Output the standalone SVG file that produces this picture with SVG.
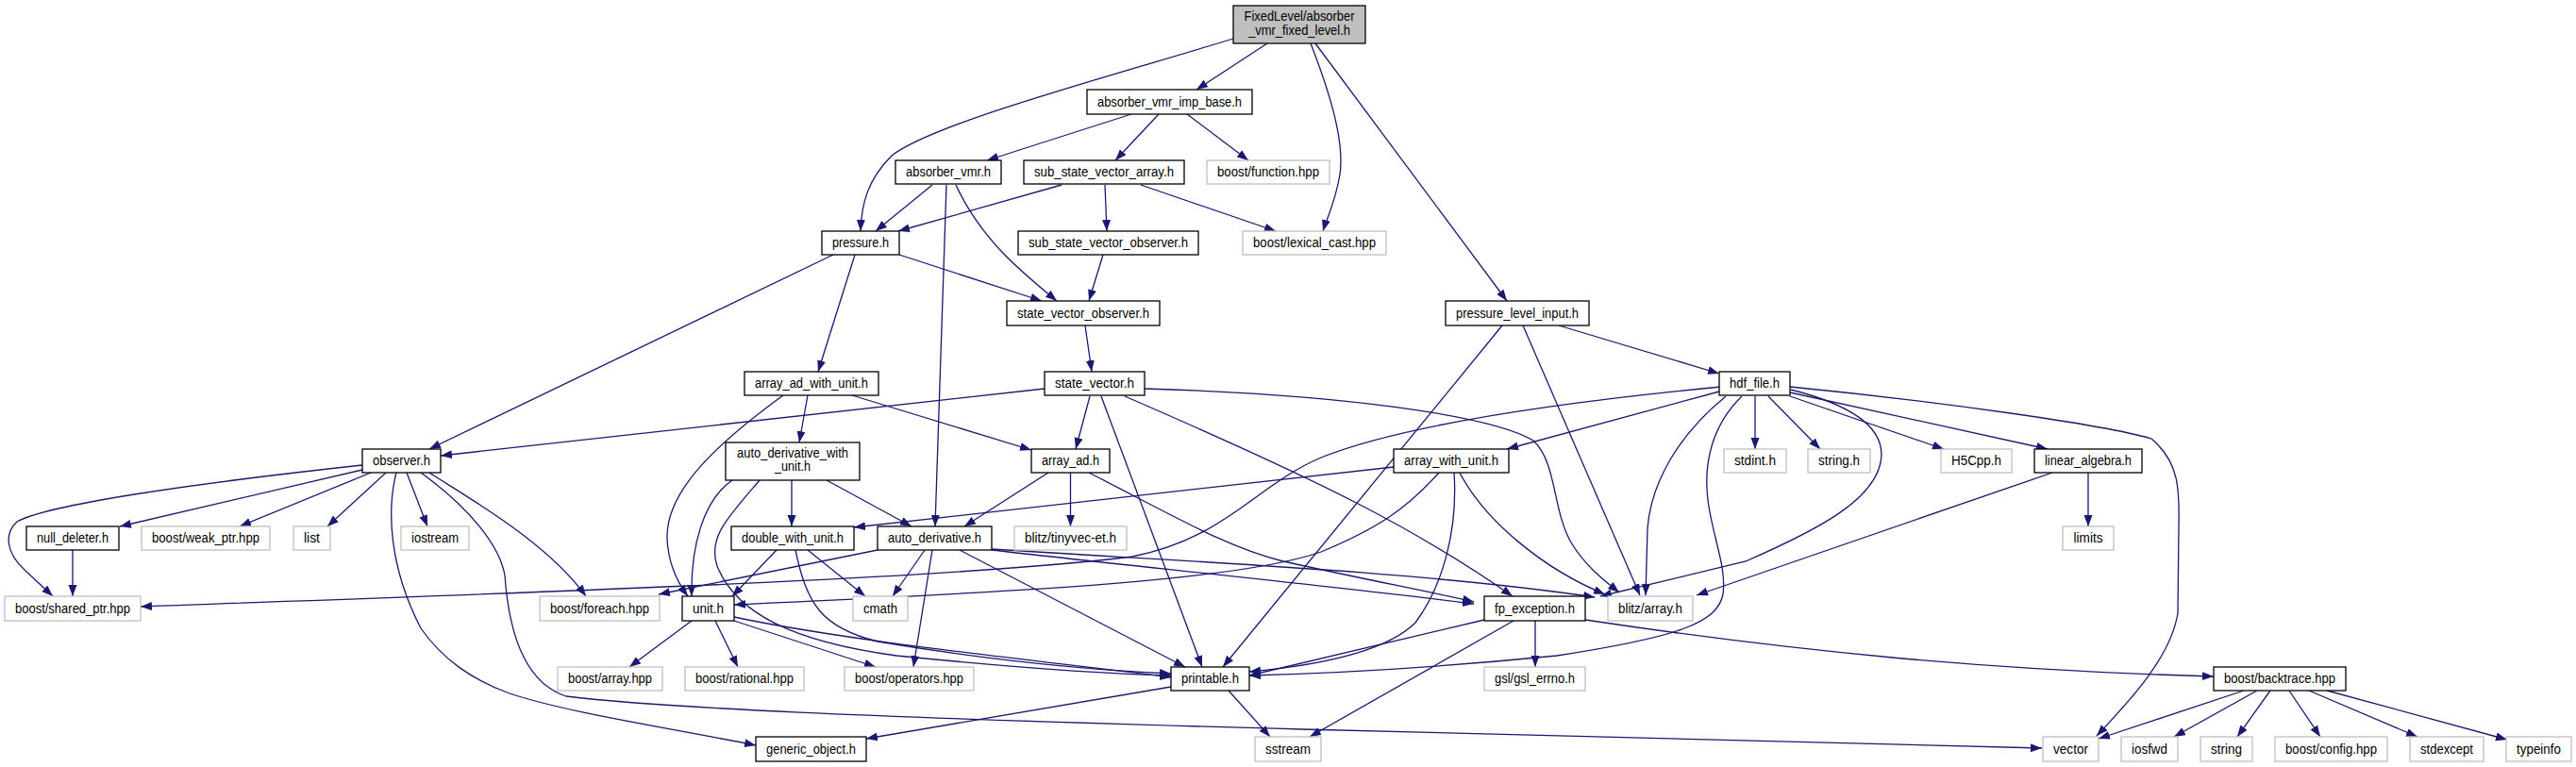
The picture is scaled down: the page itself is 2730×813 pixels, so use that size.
<svg xmlns="http://www.w3.org/2000/svg" width="2730" height="813" viewBox="0 0 2730 813">
<style>
.n rect{fill:#fff;stroke:#000;stroke-width:1.3}
.x rect{fill:#fff;stroke:#bfbfbf;stroke-width:1.3}
.r rect{fill:#bfbfbf;stroke:#000;stroke-width:1.3}
text{font-family:"Liberation Sans",Arial,sans-serif;font-size:14px;text-anchor:middle;fill:#000}
#edges path{fill:none;stroke:#191970;stroke-width:1.3;marker-end:url(#a)}
</style>
<defs>
<marker id="a" markerUnits="userSpaceOnUse" markerWidth="13" markerHeight="10" refX="12" refY="4.5" orient="auto"><path d="M0,0 L12,4.5 L0,9 z" fill="#191970"/></marker>
</defs>
<rect width="2730" height="813" fill="#fff"/>
<g id="edges">
<path d="M1307,41 C1180,80 990,130 945,165 C920,190 913,215 912,245"/>
<path d="M1343,46 L1268,95"/>
<path d="M1389,46 C1410,100 1425,150 1420,185 C1415,215 1405,235 1402,245"/>
<path d="M1394,46 L1597,319"/>
<path d="M1199,121 L1046,170"/>
<path d="M1228,121 L1182,170"/>
<path d="M1258,121 L1323,170"/>
<path d="M988,196 L928,245"/>
<path d="M1003,196 L991,558"/>
<path d="M1013,196 C1040,255 1085,290 1120,319"/>
<path d="M1125,196 L952,245"/>
<path d="M1171,196 L1173,245"/>
<path d="M1209,196 L1352,245"/>
<path d="M1169,270 L1154,319"/>
<path d="M953,270 L1104,319"/>
<path d="M906,270 L867,394"/>
<path d="M883,270 L455,476"/>
<path d="M1150,345 L1157,394"/>
<path d="M1592,345 L1296,707"/>
<path d="M1614,345 L1738,631"/>
<path d="M1652,345 L1822,396"/>
<path d="M856,419 L847,469"/>
<path d="M903,419 L1093,477"/>
<path d="M830,419 C760,470 706,520 707,570 C708,600 720,620 729,632"/>
<path d="M1107,412 L467,483"/>
<path d="M1155,420 L1140,476"/>
<path d="M1167,420 L1274,707"/>
<path d="M1192,420 C1400,510 1500,560 1603,632"/>
<path d="M1213,412 C1420,418 1580,440 1625,467 C1650,490 1645,540 1665,575 C1680,600 1700,615 1716,628"/>
<path d="M1824,410 C1700,422 1500,445 1400,485 C1330,515 1300,570 1200,590 C1000,615 500,630 149,643"/>
<path d="M1822,415 L1597,476"/>
<path d="M1846,420 C1815,450 1805,490 1810,530 C1815,570 1830,600 1826,630 C1820,660 1780,675 1650,695 C1500,710 1400,714 1324,716"/>
<path d="M1829,420 C1780,460 1750,510 1746,560 L1744,631"/>
<path d="M1898,413 C1965,430 2000,455 1993,490 C1985,530 1930,560 1850,595 L1696,632"/>
<path d="M1860,420 L1860,476"/>
<path d="M1874,420 L1929,476"/>
<path d="M1897,420 L2060,476"/>
<path d="M1897,416 L2170,476"/>
<path d="M1897,410 C2050,425 2230,450 2280,465 C2310,490 2310,520 2309,560 L2308,650 C2300,700 2250,750 2222,780"/>
<path d="M384,498 L127,558"/>
<path d="M393,501 L254,558"/>
<path d="M409,501 L347,558"/>
<path d="M431,501 L453,558"/>
<path d="M384,493 C200,513 50,535 18,553 C5,565 5,585 27,605 L56,632"/>
<path d="M455,501 C500,530 580,575 621,632"/>
<path d="M420,501 C410,540 412,600 446,666 C470,700 500,720 540,735 C600,755 700,770 801,790"/>
<path d="M446,501 C500,540 530,580 535,610 C540,680 560,725 600,738 C700,750 900,760 1380,773 L2164,793"/>
<path d="M839,509 L839,558"/>
<path d="M876,509 L966,558"/>
<path d="M776,509 C745,530 732,580 733,632"/>
<path d="M805,509 C770,550 750,570 760,600 C780,650 840,680 950,695 C1100,710 1200,715 1241,716"/>
<path d="M1111,501 L1022,558"/>
<path d="M1134.5,501 L1134.5,558"/>
<path d="M1154,501 C1250,550 1300,580 1360,595 C1450,615 1520,628 1562,638"/>
<path d="M1477,495 L905,559"/>
<path d="M1525,501 C1490,540 1460,560 1400,585 C1300,620 1000,630 778,641"/>
<path d="M1541,501 C1545,560 1530,620 1500,660 C1470,690 1400,705 1324,712"/>
<path d="M1547,501 C1575,555 1640,605 1701,630"/>
<path d="M2213,501 L2213,558"/>
<path d="M2175,501 L1798,631"/>
<path d="M77,583 L77,632"/>
<path d="M823,583 L776,632"/>
<path d="M856,583 L917,632"/>
<path d="M843,583 C855,640 870,665 930,680 C1050,700 1150,710 1241,714"/>
<path d="M930,583 L698,630"/>
<path d="M980,583 L946,632"/>
<path d="M988,583 L968,707"/>
<path d="M1017,583 L1256,707"/>
<path d="M1051,583 C1200,600 1400,620 1562,640"/>
<path d="M1051,582 C1250,595 1500,605 1690,633"/>
<path d="M733,658 L667,707"/>
<path d="M758,658 L782,707"/>
<path d="M778,658 L928,707"/>
<path d="M778,654 C900,680 1100,700 1241,718"/>
<path d="M1573,657 L1324,716"/>
<path d="M1627,658 L1627,707"/>
<path d="M1604,658 L1388,781"/>
<path d="M1680,657 C1900,690 2100,710 2346,717"/>
<path d="M1241,728 L918,783"/>
<path d="M1302,732 L1346,781"/>
<path d="M2378,732 L2224,783"/>
<path d="M2392,732 L2304,781"/>
<path d="M2406,732 L2371,781"/>
<path d="M2426,732 L2459,781"/>
<path d="M2447,732 L2562,781"/>
<path d="M2466,732 L2657,784"/>
</g>
<g id="root" class="r"><rect x="1307" y="6" width="140" height="40"/><text x="1377" y="22" textLength="117" lengthAdjust="spacingAndGlyphs">FixedLevel/absorber</text><text x="1377" y="37" textLength="108" lengthAdjust="spacingAndGlyphs">_vmr_fixed_level.h</text></g>
<g id="absorber_vmr_imp_base" class="n"><rect x="1152" y="95" width="175" height="26"/><text x="1239.5" y="112.5" textLength="153" lengthAdjust="spacingAndGlyphs">absorber_vmr_imp_base.h</text></g>
<g id="absorber_vmr" class="n"><rect x="949" y="170" width="112" height="25"/><text x="1005" y="187" textLength="90" lengthAdjust="spacingAndGlyphs">absorber_vmr.h</text></g>
<g id="sub_state_vector_array" class="n"><rect x="1085" y="170" width="170" height="25"/><text x="1170" y="187" textLength="148" lengthAdjust="spacingAndGlyphs">sub_state_vector_array.h</text></g>
<g id="boost_function" class="x"><rect x="1279" y="170" width="130" height="25"/><text x="1344" y="187" textLength="108" lengthAdjust="spacingAndGlyphs">boost/function.hpp</text></g>
<g id="pressure" class="n"><rect x="871" y="245" width="82" height="25"/><text x="912" y="262" textLength="60" lengthAdjust="spacingAndGlyphs">pressure.h</text></g>
<g id="sub_state_vector_observer" class="n"><rect x="1079" y="245" width="191" height="25"/><text x="1174.5" y="262" textLength="169" lengthAdjust="spacingAndGlyphs">sub_state_vector_observer.h</text></g>
<g id="boost_lexical_cast" class="x"><rect x="1317" y="245" width="152" height="25"/><text x="1393" y="262" textLength="130" lengthAdjust="spacingAndGlyphs">boost/lexical_cast.hpp</text></g>
<g id="state_vector_observer" class="n"><rect x="1067" y="319" width="162" height="26"/><text x="1148" y="336.5" textLength="140" lengthAdjust="spacingAndGlyphs">state_vector_observer.h</text></g>
<g id="pressure_level_input" class="n"><rect x="1532" y="319" width="152" height="26"/><text x="1608" y="336.5" textLength="130" lengthAdjust="spacingAndGlyphs">pressure_level_input.h</text></g>
<g id="array_ad_with_unit" class="n"><rect x="789" y="394" width="142" height="25"/><text x="860" y="411" textLength="120" lengthAdjust="spacingAndGlyphs">array_ad_with_unit.h</text></g>
<g id="state_vector" class="n"><rect x="1107" y="394" width="106" height="25"/><text x="1160" y="411" textLength="84" lengthAdjust="spacingAndGlyphs">state_vector.h</text></g>
<g id="hdf_file" class="n"><rect x="1822" y="394" width="75" height="25"/><text x="1859.5" y="411" textLength="53" lengthAdjust="spacingAndGlyphs">hdf_file.h</text></g>
<g id="observer" class="n"><rect x="384" y="476" width="83" height="25"/><text x="425.5" y="493" textLength="61" lengthAdjust="spacingAndGlyphs">observer.h</text></g>
<g id="auto_derivative_with_unit" class="n"><rect x="769" y="469" width="142" height="40"/><text x="840" y="485" textLength="118" lengthAdjust="spacingAndGlyphs">auto_derivative_with</text><text x="840" y="499" textLength="38" lengthAdjust="spacingAndGlyphs">_unit.h</text></g>
<g id="array_ad" class="n"><rect x="1093" y="476" width="83" height="25"/><text x="1134.5" y="493" textLength="61" lengthAdjust="spacingAndGlyphs">array_ad.h</text></g>
<g id="array_with_unit" class="n"><rect x="1477" y="476" width="122" height="25"/><text x="1538" y="493" textLength="100" lengthAdjust="spacingAndGlyphs">array_with_unit.h</text></g>
<g id="stdint" class="x"><rect x="1827" y="476" width="66" height="25"/><text x="1860" y="493" textLength="44" lengthAdjust="spacingAndGlyphs">stdint.h</text></g>
<g id="string_h" class="x"><rect x="1916" y="476" width="66" height="25"/><text x="1949" y="493" textLength="44" lengthAdjust="spacingAndGlyphs">string.h</text></g>
<g id="H5Cpp" class="x"><rect x="2057" y="476" width="75" height="25"/><text x="2094.5" y="493" textLength="53" lengthAdjust="spacingAndGlyphs">H5Cpp.h</text></g>
<g id="linear_algebra" class="n"><rect x="2156" y="476" width="114" height="25"/><text x="2213" y="493" textLength="92" lengthAdjust="spacingAndGlyphs">linear_algebra.h</text></g>
<g id="null_deleter" class="n"><rect x="28" y="558" width="98" height="25"/><text x="77" y="575" textLength="76" lengthAdjust="spacingAndGlyphs">null_deleter.h</text></g>
<g id="boost_weak_ptr" class="x"><rect x="150" y="558" width="136" height="25"/><text x="218" y="575" textLength="114" lengthAdjust="spacingAndGlyphs">boost/weak_ptr.hpp</text></g>
<g id="list" class="x"><rect x="311" y="558" width="39" height="25"/><text x="330.5" y="575" textLength="17" lengthAdjust="spacingAndGlyphs">list</text></g>
<g id="iostream" class="x"><rect x="425" y="558" width="72" height="25"/><text x="461" y="575" textLength="50" lengthAdjust="spacingAndGlyphs">iostream</text></g>
<g id="double_with_unit" class="n"><rect x="775" y="558" width="130" height="25"/><text x="840" y="575" textLength="108" lengthAdjust="spacingAndGlyphs">double_with_unit.h</text></g>
<g id="auto_derivative" class="n"><rect x="930" y="558" width="121" height="25"/><text x="990.5" y="575" textLength="99" lengthAdjust="spacingAndGlyphs">auto_derivative.h</text></g>
<g id="blitz_tinyvec" class="x"><rect x="1075" y="558" width="119" height="25"/><text x="1134.5" y="575" textLength="97" lengthAdjust="spacingAndGlyphs">blitz/tinyvec-et.h</text></g>
<g id="limits" class="x"><rect x="2186" y="558" width="54" height="25"/><text x="2213" y="575" textLength="31" lengthAdjust="spacingAndGlyphs">limits</text></g>
<g id="boost_shared_ptr" class="x"><rect x="5" y="632" width="144" height="26"/><text x="77" y="649.5" textLength="122" lengthAdjust="spacingAndGlyphs">boost/shared_ptr.hpp</text></g>
<g id="boost_foreach" class="x"><rect x="572" y="632" width="127" height="26"/><text x="635.5" y="649.5" textLength="105" lengthAdjust="spacingAndGlyphs">boost/foreach.hpp</text></g>
<g id="unit" class="n"><rect x="723" y="632" width="55" height="26"/><text x="750.5" y="649.5" textLength="33" lengthAdjust="spacingAndGlyphs">unit.h</text></g>
<g id="cmath" class="x"><rect x="904" y="632" width="58" height="26"/><text x="933" y="649.5" textLength="36" lengthAdjust="spacingAndGlyphs">cmath</text></g>
<g id="fp_exception" class="n"><rect x="1573" y="632" width="107" height="26"/><text x="1626.5" y="649.5" textLength="85" lengthAdjust="spacingAndGlyphs">fp_exception.h</text></g>
<g id="blitz_array" class="x"><rect x="1704" y="632" width="90" height="26"/><text x="1749" y="649.5" textLength="68" lengthAdjust="spacingAndGlyphs">blitz/array.h</text></g>
<g id="boost_array" class="x"><rect x="591" y="707" width="111" height="25"/><text x="646.5" y="724" textLength="89" lengthAdjust="spacingAndGlyphs">boost/array.hpp</text></g>
<g id="boost_rational" class="x"><rect x="726" y="707" width="126" height="25"/><text x="789" y="724" textLength="104" lengthAdjust="spacingAndGlyphs">boost/rational.hpp</text></g>
<g id="boost_operators" class="x"><rect x="895" y="707" width="137" height="25"/><text x="963.5" y="724" textLength="115" lengthAdjust="spacingAndGlyphs">boost/operators.hpp</text></g>
<g id="printable" class="n"><rect x="1241" y="707" width="83" height="25"/><text x="1282.5" y="724" textLength="61" lengthAdjust="spacingAndGlyphs">printable.h</text></g>
<g id="gsl_errno" class="x"><rect x="1573" y="707" width="107" height="25"/><text x="1626.5" y="724" textLength="85" lengthAdjust="spacingAndGlyphs">gsl/gsl_errno.h</text></g>
<g id="boost_backtrace" class="n"><rect x="2346" y="707" width="140" height="25"/><text x="2416" y="724" textLength="118" lengthAdjust="spacingAndGlyphs">boost/backtrace.hpp</text></g>
<g id="generic_object" class="n"><rect x="801" y="781" width="117" height="26"/><text x="859.5" y="798.5" textLength="95" lengthAdjust="spacingAndGlyphs">generic_object.h</text></g>
<g id="sstream" class="x"><rect x="1330" y="781" width="70" height="26"/><text x="1365" y="798.5" textLength="48" lengthAdjust="spacingAndGlyphs">sstream</text></g>
<g id="vector" class="x"><rect x="2165" y="781" width="59" height="26"/><text x="2194.5" y="798.5" textLength="37" lengthAdjust="spacingAndGlyphs">vector</text></g>
<g id="iosfwd" class="x"><rect x="2248" y="781" width="60" height="26"/><text x="2278" y="798.5" textLength="38" lengthAdjust="spacingAndGlyphs">iosfwd</text></g>
<g id="string" class="x"><rect x="2332" y="781" width="55" height="26"/><text x="2359.5" y="798.5" textLength="33" lengthAdjust="spacingAndGlyphs">string</text></g>
<g id="boost_config" class="x"><rect x="2411" y="781" width="119" height="26"/><text x="2470.5" y="798.5" textLength="97" lengthAdjust="spacingAndGlyphs">boost/config.hpp</text></g>
<g id="stdexcept" class="x"><rect x="2554" y="781" width="78" height="26"/><text x="2593" y="798.5" textLength="56" lengthAdjust="spacingAndGlyphs">stdexcept</text></g>
<g id="typeinfo" class="x"><rect x="2656" y="781" width="69" height="26"/><text x="2690.5" y="798.5" textLength="47" lengthAdjust="spacingAndGlyphs">typeinfo</text></g>
</svg>
